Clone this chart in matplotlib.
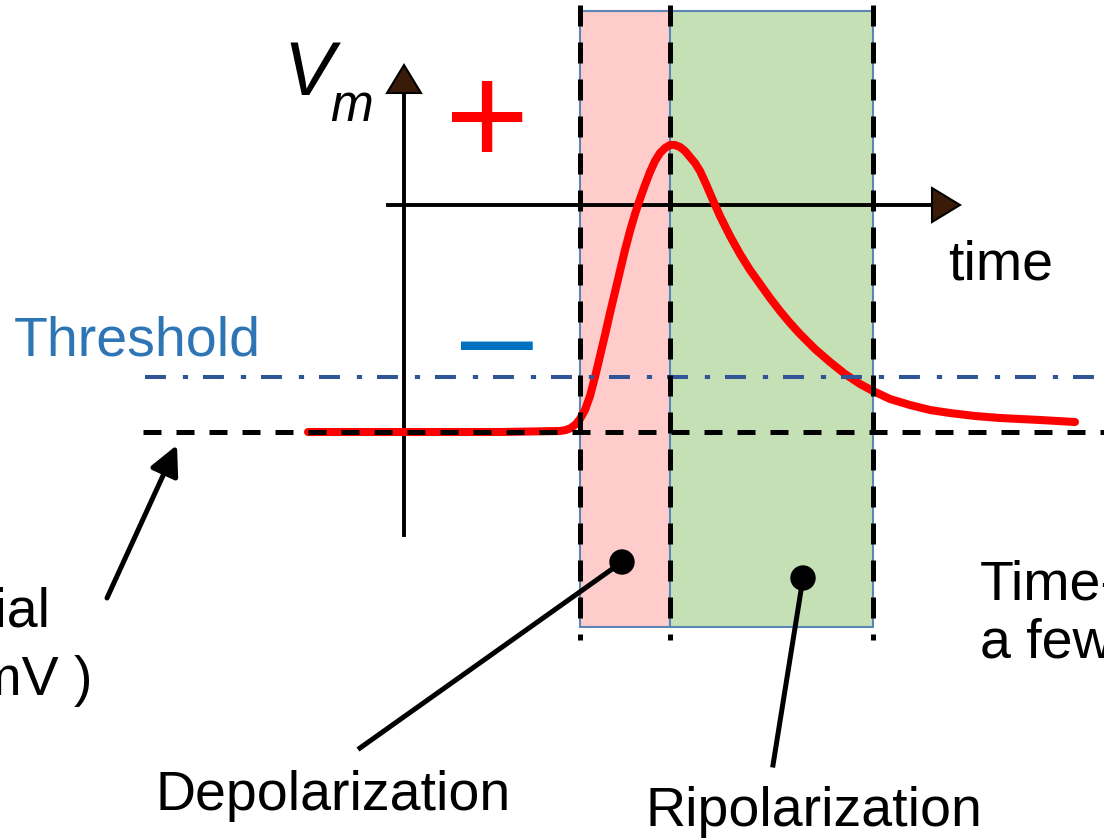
import matplotlib.pyplot as plt
from matplotlib.patches import Rectangle, Polygon, Circle

plt.rcParams['font.family'] = ['Liberation Sans', 'DejaVu Sans']

# Data (pixel space of the 1104x840 picture, y grows downwards)
curve_x = [308, 400, 500, 560, 566, 571, 576, 580, 585, 590, 595, 600, 605, 610, 615, 620,
           625, 630, 635, 640, 645, 650, 655, 660, 665, 670, 675, 680, 685, 690, 695, 700,
           706, 712, 720, 730, 740, 750, 760, 770, 780, 790, 800, 815, 830, 845, 860, 873,
           890, 910, 930, 950, 975, 1000, 1040, 1075]
curve_y = [432, 432, 432, 431, 430, 428, 424, 419, 410, 396, 377, 356, 335, 313, 292, 271,
           250, 231, 214, 199, 185, 172, 161, 153, 148, 145, 145, 147, 151, 157, 163, 171,
           184, 198, 216, 236, 254, 270, 284, 298, 311, 323, 334, 349, 362, 374, 384, 391,
           399, 405, 410, 413, 416, 418, 420, 422]

depol_x = (580, 670)
repol_x = (670, 873)
box_top, box_bottom = 11, 627
phase_lines = [580, 670, 873]

rest_level = 432
threshold_level = 377
time_axis_y = 205
vm_axis_x = 404

fig = plt.figure(figsize=(11.04, 8.4), dpi=100)
ax = fig.add_axes([0, 0, 1, 1])
ax.set_xlim(0, 1104)
ax.set_ylim(840, 0)
ax.axis('off')

# phase boxes
ax.add_patch(Rectangle((depol_x[0], box_top), depol_x[1] - depol_x[0], box_bottom - box_top,
                       facecolor='#FFCCCC', edgecolor='#5B86B5', lw=1.5, zorder=1))
ax.add_patch(Rectangle((repol_x[0], box_top), repol_x[1] - repol_x[0], box_bottom - box_top,
                       facecolor='#C5E0B4', edgecolor='#5B86B5', lw=1.5, zorder=1))

# axes with arrowheads
ax.plot([vm_axis_x, vm_axis_x], [535, 92], color='black', lw=2.8, zorder=2)
ax.add_patch(Polygon([[vm_axis_x - 17, 93], [vm_axis_x + 17, 93], [vm_axis_x, 65]],
                     closed=True, facecolor='#3A1B0A', edgecolor='black', lw=1.5, zorder=3))
ax.plot([388, 933], [time_axis_y, time_axis_y], color='black', lw=2.8, zorder=2)
ax.add_patch(Polygon([[932, time_axis_y - 17], [932, time_axis_y + 17], [960, time_axis_y]],
                     closed=True, facecolor='#3A1B0A', edgecolor='black', lw=1.5, zorder=3))

# action potential
ax.plot(curve_x, curve_y, color='#FF0000', lw=5.8, solid_capstyle='round',
        solid_joinstyle='round', zorder=4)

# reference lines
ax.plot([145, 1104], [threshold_level, threshold_level], color='#2F5597', lw=2.9,
        ls=(0, (5.2, 4.2, 1.3, 3.7)), zorder=5)
ax.plot([143, 1104], [rest_level, rest_level], color='black', lw=3.6,
        ls=(0, (3.6, 3.0)), zorder=5)
for px in phase_lines:
    ax.plot([px, px], [5, 640], color='black', lw=3.6, ls=(0, (4.2, 3.2)), zorder=5)

# pointers
ax.annotate('', xy=(177, 445), xytext=(107, 598),
            arrowprops=dict(arrowstyle='-|>,head_length=0.9,head_width=0.45',
                            mutation_scale=20, lw=3.6, color='black',
                            shrinkA=0, shrinkB=0), zorder=6)
ax.plot([360, 622], [748, 562], color='black', lw=3.6, zorder=6)
ax.add_patch(Circle((622, 562), 12, color='black', zorder=6))
ax.plot([773, 803], [765, 578], color='black', lw=3.6, zorder=6)
ax.add_patch(Circle((803, 578), 12, color='black', zorder=6))

# texts
ax.text(283, 95, 'V', fontsize=55, style='italic', va='baseline', ha='left')
ax.text(330, 121, 'm', fontsize=37, style='italic', va='baseline', ha='left')
ax.text(487, 165, '+', fontsize=104, color='#FF0000', va='baseline', ha='center')
ax.text(497, 379, '\u2013', fontsize=93, color='#0070C0', va='baseline', ha='center')
ax.text(14, 355, 'Threshold', fontsize=40, color='#2E75B6', va='baseline', ha='left')
ax.text(948, 279, 'time', fontsize=40, va='baseline', ha='left')
ax.text(50, 627, 'Resting potential', fontsize=40, va='baseline', ha='right')
ax.text(92, 695, '( -70 mV )', fontsize=40, va='baseline', ha='right')
ax.text(980, 600, 'Time-scale:', fontsize=40, va='baseline', ha='left')
ax.text(980, 658, 'a few ms', fontsize=40, va='baseline', ha='left')
ax.text(155, 810, 'Depolarization', fontsize=40, va='baseline', ha='left')
ax.text(645, 826, 'Ripolarization', fontsize=40, va='baseline', ha='left')

fig.savefig('out.png', dpi=100)
